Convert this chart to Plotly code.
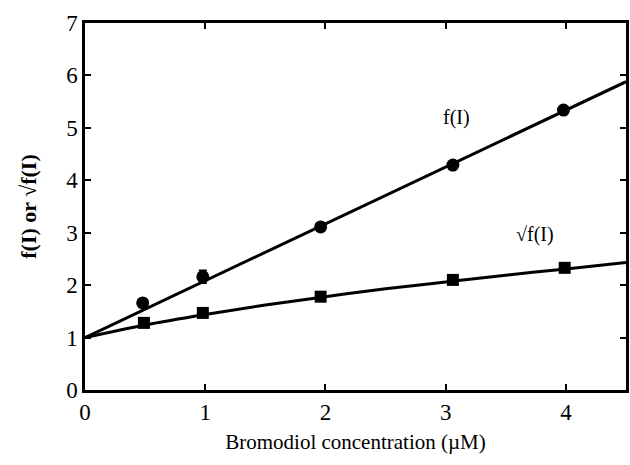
import plotly.graph_objects as go

conc_f = [0.48, 0.98, 1.96, 3.06, 3.98]
f_vals = [1.66, 2.16, 3.11, 4.29, 5.34]
f_err = [0.0, 0.12, 0.0, 0.0, 0.0]

conc_s = [0.49, 0.98, 1.96, 3.06, 3.99]
sqrt_vals = [1.28, 1.47, 1.78, 2.10, 2.33]

# Fitted lines
fit_f_x = [0.0, 4.5]
fit_f_y = [1.0, 5.88]
fit_s_x = [0.0, 0.5, 1.0, 1.5, 2.0, 2.5, 3.0, 3.5, 4.0, 4.5]
fit_s_y = [1.0, 1.24, 1.44, 1.62, 1.78, 1.93, 2.06, 2.19, 2.31, 2.43]

x_ticks = [0, 1, 2, 3, 4]
y_ticks = [0, 1, 2, 3, 4, 5, 6, 7]

FONT = "Liberation Serif"

fig = go.Figure()
fig.add_trace(go.Scatter(x=fit_f_x, y=fit_f_y, mode="lines",
                         line=dict(color="black", width=3), showlegend=False))
fig.add_trace(go.Scatter(x=fit_s_x, y=fit_s_y, mode="lines", line_shape="spline",
                         line=dict(color="black", width=3), showlegend=False))
fig.add_trace(go.Scatter(x=conc_f, y=f_vals, mode="markers",
                         marker=dict(symbol="circle", size=13, color="black"),
                         error_y=dict(type="data", array=f_err, color="black",
                                      thickness=2, width=4),
                         showlegend=False))
fig.add_trace(go.Scatter(x=conc_s, y=sqrt_vals, mode="markers",
                         marker=dict(symbol="square", size=12, color="black"),
                         showlegend=False))

fig.add_annotation(x=(459 - 85) / 121, y=(390 - 118) / 52.4, text="f(I)",
                   showarrow=False, font=dict(family=FONT, size=20, color="black"))
fig.add_annotation(x=(538 - 85) / 121, y=(390 - 235) / 52.4, text="√f(I)",
                   showarrow=False, font=dict(family=FONT, size=20, color="black"))

axis_common = dict(showline=True, linecolor="black", linewidth=2.5, mirror="allticks",
                   ticks="inside", ticklen=6, tickwidth=2, tickcolor="black",
                   showgrid=False, zeroline=False,
                   tickfont=dict(family=FONT, size=23, color="black"))

fig.update_xaxes(range=[0, 4.5], tickvals=x_ticks, **axis_common,
                 title=dict(text="Bromodiol concentration (µM)",
                            font=dict(family=FONT, size=21, color="black"), standoff=10))
fig.update_yaxes(range=[0, 7], tickvals=y_ticks, **axis_common,
                 title=dict(text="<b>f(I) or √f(I)</b>",
                            font=dict(family=FONT, size=22, color="black"), standoff=24))

fig.update_layout(width=630, height=465, margin=dict(l=85, r=1, t=23, b=75),
                  plot_bgcolor="white", paper_bgcolor="white")

fig.write_html("out.html")
